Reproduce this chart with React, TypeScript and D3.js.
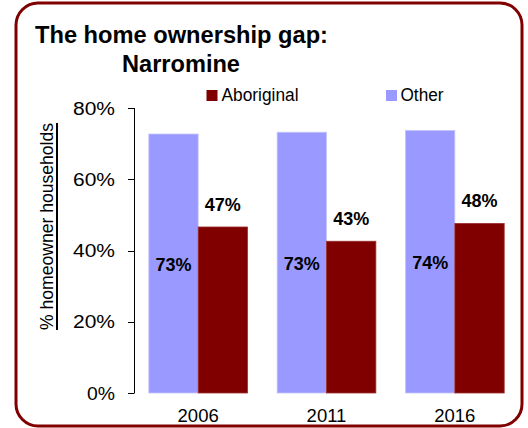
import React from "react";
import * as d3 from "d3";

const years = ["2006", "2011", "2016"];
const seriesNames = ["Other", "Aboriginal"];
const otherValues = [72.7, 73.2, 73.7];
const aboriginalValues = [46.6, 42.6, 47.6];
const otherLabels = ["73%", "73%", "74%"];
const aboriginalLabels = ["47%", "43%", "48%"];
const yTicks = [0, 20, 40, 60, 80];

const colors: Record<string, string> = { Other: "#9999FF", Aboriginal: "#800000" };
const strokes: Record<string, string> = { Other: "#C4C4FF", Aboriginal: "#9A3030" };

const FONT = "'Liberation Sans', Arial, Helvetica, sans-serif";

export default function App() {
  const W = 528, H = 428;
  const y = d3.scaleLinear().domain([0, 80]).range([393, 108]);
  const x0 = d3.scaleBand<string>().domain(years).range([134, 519]).padding(0);
  const x1 = d3.scaleBand<string>().domain(seriesNames).range([0, x0.bandwidth()]).paddingInner(0).paddingOuter(0.3);

  const data = years.map((yr, i) => ({
    year: yr,
    Other: otherValues[i],
    Aboriginal: aboriginalValues[i],
    otherLabel: otherLabels[i],
    aborLabel: aboriginalLabels[i],
  }));

  return (
    <svg width={W} height={H} style={{ position: "absolute", left: 0, top: 0, background: "#fff" }} fontFamily={FONT}>
      <rect x={0} y={0} width={W} height={H} fill="#fff" />
      <rect x={16} y={3} width={506} height={423} rx={22} ry={22} fill="#fff" stroke="#800000" strokeWidth={3} />

      {/* Title */}
      <text x={35} y={43} fontSize={23} fontWeight="bold" fill="#000" textLength={293} lengthAdjust="spacingAndGlyphs">The home ownership gap:</text>
      <text x={181} y={72} fontSize={23} fontWeight="bold" fill="#000" textAnchor="middle" textLength={118} lengthAdjust="spacingAndGlyphs">Narromine</text>

      {/* Legend */}
      <rect x={206.5} y={90} width={11} height={11} fill={colors.Aboriginal} />
      <text x={221.5} y={101} fontSize={18} fill="#000" textLength={77} lengthAdjust="spacingAndGlyphs">Aboriginal</text>
      <rect x={386} y={90} width={11} height={11} fill={colors.Other} />
      <text x={400.5} y={101} fontSize={18} fill="#000" textLength={43} lengthAdjust="spacingAndGlyphs">Other</text>

      {/* Y axis title */}
      <g transform="translate(53,226.5) rotate(-90)">
        <text x={0} y={0} fontSize={19} fill="#000" textAnchor="middle" textLength={207} lengthAdjust="spacingAndGlyphs">% homeowner households</text>
      </g>
      <line x1={57} x2={57} y1={123} y2={330} stroke="#000" strokeWidth={2} />

      {/* Y axis */}
      <line x1={134.5} x2={134.5} y1={y(80)} y2={y(0)} stroke="#000" strokeWidth={1} />
      {yTicks.map((t) => (
        <g key={t}>
          <line x1={128} x2={134.5} y1={Math.round(y(t)) + 0.5} y2={Math.round(y(t)) + 0.5} stroke="#000" strokeWidth={1} />
          <text x={115} y={y(t) + 6.5} fontSize={18} textAnchor="end" fill="#000" textLength={t === 0 ? 28 : 42} lengthAdjust="spacingAndGlyphs">{t}%</text>
        </g>
      ))}

      {/* Bars */}
      {data.map((d) => (
        <g key={d.year} transform={`translate(${x0(d.year)},0)`}>
          {seriesNames.map((s) => (
            <rect
              key={s}
              x={x1(s)!}
              y={y((d as any)[s])}
              width={x1.bandwidth()}
              height={y(0) - y((d as any)[s])}
              fill={colors[s]}
              stroke={strokes[s]}
              strokeWidth={0.8}
            />
          ))}
          <text
            x={x1("Other")! + x1.bandwidth() / 2}
            y={(y(d.Other) + y(0)) / 2 + 7.5}
            fontSize={18}
            fontWeight="bold"
            textAnchor="middle"
            fill="#000"
          >
            {d.otherLabel}
          </text>
          <text
            x={x1("Aboriginal")! + x1.bandwidth() / 2}
            y={y(d.Aboriginal) - 16}
            fontSize={18}
            fontWeight="bold"
            textAnchor="middle"
            fill="#000"
          >
            {d.aborLabel}
          </text>
          <text x={x0.bandwidth() / 2} y={421.5} fontSize={18.5} textAnchor="middle" fill="#000">
            {d.year}
          </text>
        </g>
      ))}
    </svg>
  );
}
